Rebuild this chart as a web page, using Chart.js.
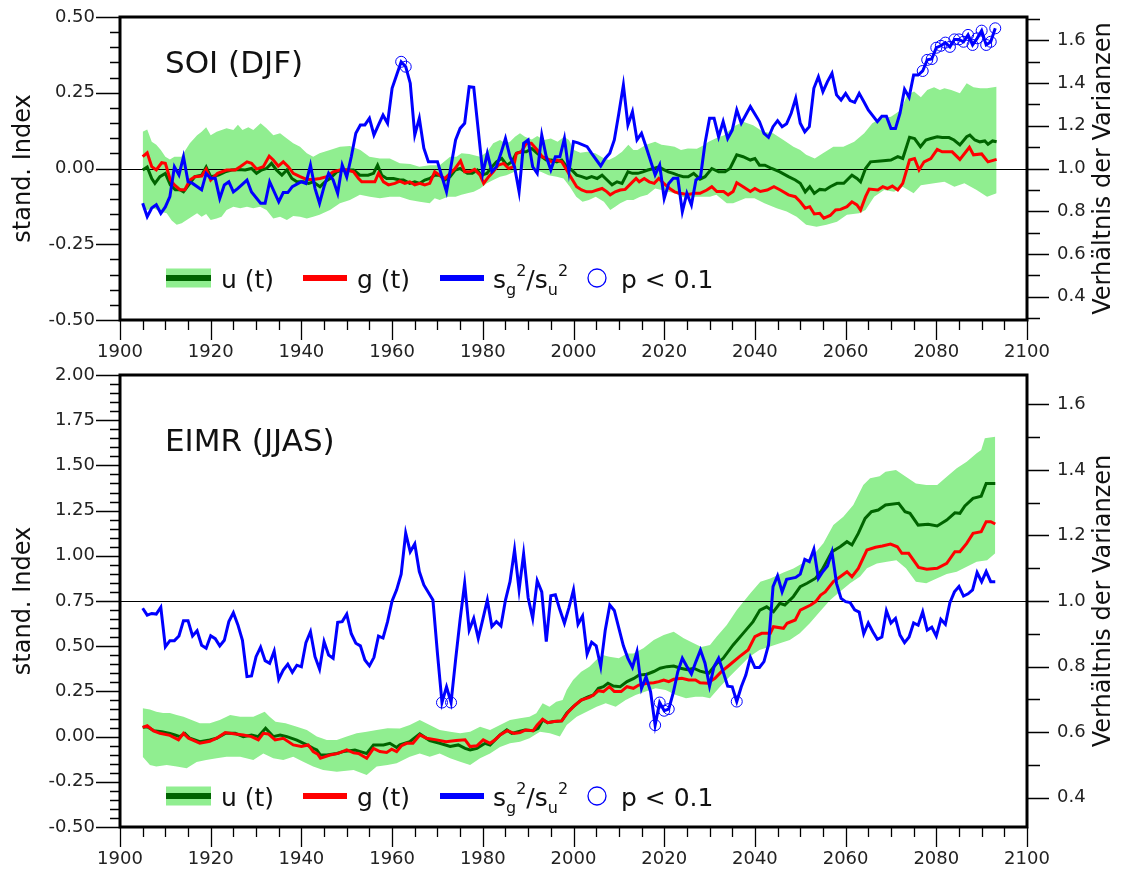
<!DOCTYPE html>
<html>
<head>
<meta charset="utf-8">
<script src="https://cdn.jsdelivr.net/npm/chart.js@4.4.1/dist/chart.umd.min.js"></script>
<style>
  html, body { margin: 0; padding: 0; background: #fff; }
  #wrap { position: relative; width: 1124px; height: 875px; overflow: hidden; }
  canvas { position: absolute; left: 0; }
</style>
</head>
<body>
<div id="wrap">
  <canvas id="soi" width="1124" height="365" style="top:0px"></canvas>
  <canvas id="eimr" width="1124" height="520" style="top:355px"></canvas>
</div>
<script>
// ---- axis ticks ----
const yearTicks = [1900, 1920, 1940, 1960, 1980, 2000, 2020, 2040, 2060, 2080, 2100];
const soiIndexTicks = [-0.5, -0.25, 0, 0.25, 0.5];
const eimrIndexTicks = [-0.5, -0.25, 0, 0.25, 0.5, 0.75, 1.0, 1.25, 1.5, 1.75, 2.0];
const ratioTicks = [0.4, 0.6, 0.8, 1.0, 1.2, 1.4, 1.6];

// ---- SOI (DJF): [year, value] ----
const soiUpper = [[1905,0.121],[1906,0.129],[1907,0.088],[1908,0.078],[1909,0.061],[1910,0.039],[1911,0.03],[1912,0.039],[1913.5,0.039],[1915.4,0.083],[1917,0.11],[1918,0.121],[1919,0.136],[1920,0.11],[1921.3,0.121],[1923.5,0.133],[1925,0.127],[1926,0.144],[1927,0.127],[1928.3,0.136],[1929.4,0.127],[1931,0.149],[1932.3,0.133],[1933.8,0.11],[1935.3,0.116],[1936.8,0.099],[1938.2,0.083],[1939.7,0.072],[1941.2,0.05],[1942.6,0.039],[1944,0.05],[1946.3,0.061],[1948.5,0.072],[1950.7,0.074],[1953,0.061],[1955,0.039],[1957.3,0.033],[1959.5,0.033],[1961.7,0.017],[1964,0.015],[1966,0.006],[1968.3,0.011],[1970.5,0.011],[1972.8,0.039],[1974.2,0.039],[1975.3,0.05],[1977,0.048],[1979.4,0.039],[1981,0.055],[1982.3,0.083],[1983.8,0.094],[1985,0.083],[1986,0.088],[1987.1,0.105],[1988.2,0.116],[1989.3,0.105],[1990.8,0.096],[1992,0.107],[1993.5,0.094],[1995,0.099],[1996.5,0.088],[1997.9,0.105],[1999,0.094],[2000.1,0.061],[2001.5,0.052],[2003,0.055],[2004.8,0.05],[2006.7,0.034],[2007.8,0.028],[2009.2,0.039],[2010.7,0.055],[2012.1,0.078],[2013.2,0.061],[2014.1,0.061],[2016,0.078],[2018,0.088],[2019.4,0.078],[2021,0.075],[2022.3,0.072],[2023.7,0.061],[2025.2,0.066],[2027.2,0.065],[2028.5,0.075],[2029.8,0.088],[2031.3,0.099],[2033.2,0.11],[2035.2,0.138],[2037.4,0.154],[2039.6,0.143],[2041.8,0.121],[2044,0.116],[2046.3,0.094],[2048.5,0.072],[2050,0.061],[2051.3,0.045],[2053.2,0.033],[2055,0.05],[2057.3,0.072],[2059.5,0.072],[2061.9,0.088],[2064.1,0.116],[2065.9,0.149],[2067.7,0.165],[2070,0.171],[2072.2,0.193],[2073.6,0.243],[2075.1,0.254],[2076.6,0.235],[2078,0.259],[2079.5,0.268],[2080.8,0.259],[2081.8,0.265],[2083.3,0.259],[2085.2,0.248],[2086.7,0.281],[2088.2,0.268],[2089.7,0.265],[2091.2,0.265],[2093.3,0.27]];
const soiLower = [[1905,-0.137],[1906,-0.137],[1907.4,-0.131],[1908.8,-0.142],[1910.3,-0.148],[1911.4,-0.172],[1912.5,-0.186],[1913.6,-0.181],[1914.7,-0.17],[1915.8,-0.159],[1917,-0.148],[1918,-0.159],[1919,-0.15],[1920,-0.17],[1921.3,-0.165],[1922.4,-0.159],[1923.5,-0.137],[1925,-0.126],[1926.5,-0.131],[1928,-0.126],[1929.4,-0.131],[1930.9,-0.126],[1932.3,-0.137],[1933.8,-0.165],[1935.3,-0.159],[1936.8,-0.17],[1938.2,-0.157],[1939.7,-0.159],[1941.2,-0.165],[1942.6,-0.159],[1944,-0.153],[1946.3,-0.137],[1948.5,-0.115],[1950.7,-0.104],[1952.9,-0.087],[1955.1,-0.093],[1957.3,-0.098],[1959.5,-0.093],[1961.7,-0.093],[1963.9,-0.104],[1966.1,-0.11],[1968.3,-0.115],[1969.4,-0.098],[1970.5,-0.104],[1972.3,-0.093],[1974,-0.093],[1975.3,-0.087],[1976.6,-0.082],[1978,-0.077],[1979.4,-0.066],[1980.9,-0.049],[1982.3,-0.038],[1983.8,-0.027],[1985.2,-0.022],[1987,-0.011],[1988.9,0.0],[1990.8,-0.005],[1992.8,-0.011],[1994.5,-0.022],[1996.3,-0.027],[1997.8,-0.033],[1999.2,-0.06],[2000.6,-0.093],[2002,-0.11],[2003.4,-0.104],[2004.9,-0.093],[2006.7,-0.11],[2008.1,-0.137],[2009.2,-0.126],[2010.3,-0.115],[2011.8,-0.104],[2013.2,-0.104],[2014.7,-0.093],[2016.3,-0.087],[2018,-0.066],[2019.4,-0.071],[2020.9,-0.077],[2022.3,-0.082],[2023.9,-0.093],[2025.3,-0.098],[2026.8,-0.093],[2028.5,-0.093],[2030.1,-0.093],[2031.5,-0.087],[2033.8,-0.115],[2035.2,-0.115],[2037.9,-0.098],[2039.9,-0.098],[2042.1,-0.115],[2044.8,-0.131],[2047,-0.142],[2049.2,-0.159],[2051.3,-0.186],[2053.6,-0.192],[2055.8,-0.186],[2058.1,-0.176],[2060.3,-0.153],[2063,-0.148],[2064.4,-0.137],[2066.3,-0.093],[2068.5,-0.071],[2070.7,-0.077],[2072.6,-0.06],[2075,-0.082],[2076.6,-0.055],[2079.5,-0.049],[2081.8,-0.044],[2084,-0.06],[2086.2,-0.049],[2088.8,-0.07],[2091.2,-0.093],[2093.3,-0.082]];
const soiU = [[1905,-0.005],[1906,0.005],[1907,-0.033],[1907.7,-0.049],[1908.8,-0.027],[1910,-0.016],[1911.1,-0.054],[1912.2,-0.07],[1913.2,-0.07],[1914,-0.077],[1915.4,-0.049],[1916.5,-0.027],[1918,-0.022],[1919,0.005],[1920,-0.027],[1921.7,-0.022],[1923.2,-0.011],[1924.6,-0.005],[1926.1,-0.003],[1927.6,-0.005],[1929,0.0],[1930.1,-0.016],[1931.2,-0.005],[1932.3,0.0],[1933.4,0.017],[1934.5,-0.005],[1935.7,-0.022],[1936.8,-0.005],[1937.9,-0.033],[1939,-0.044],[1940.5,-0.044],[1941.6,-0.049],[1942.6,-0.044],[1944.1,-0.06],[1945.2,-0.044],[1946.3,-0.033],[1947.8,-0.011],[1949.2,-0.005],[1951.5,-0.005],[1952.9,-0.022],[1954.7,-0.022],[1955.9,-0.016],[1956.8,0.011],[1957.7,-0.022],[1958.8,-0.033],[1960.3,-0.033],[1961.7,-0.038],[1962.5,-0.038],[1963.9,-0.049],[1965,-0.044],[1966.1,-0.049],[1967.2,-0.038],[1968.3,-0.033],[1969.4,-0.022],[1970.5,-0.022],[1971.6,-0.038],[1972.8,-0.027],[1973.9,-0.005],[1975,0.0],[1976.6,-0.016],[1977.7,-0.016],[1978.8,-0.005],[1979.6,-0.022],[1980.9,-0.016],[1982,0.005],[1983,0.022],[1984.2,0.033],[1985.3,0.011],[1986.4,0.022],[1987.4,0.05],[1988.5,0.055],[1989.6,0.055],[1990.8,0.066],[1992,0.05],[1993,0.039],[1994,0.028],[1995.2,0.028],[1996.3,0.022],[1997.4,0.028],[1998.5,0.006],[1999.6,-0.005],[2000.7,-0.022],[2001.8,-0.027],[2002.9,-0.033],[2004,-0.027],[2005.2,-0.033],[2006.3,-0.022],[2007.4,-0.038],[2008.5,-0.054],[2009.6,-0.044],[2010.7,-0.049],[2012,-0.011],[2013,-0.016],[2014.2,-0.016],[2015.3,-0.011],[2016.4,-0.005],[2017.7,0.0],[2018.8,0.005],[2019.8,-0.003],[2020.9,-0.011],[2022,-0.016],[2023,-0.022],[2024.2,-0.027],[2025.3,-0.027],[2026.5,-0.016],[2027.9,-0.035],[2029,-0.027],[2030.5,0.0],[2032,-0.011],[2033.4,-0.011],[2034.5,0.0],[2036,0.045],[2037.4,0.039],[2039,0.028],[2040,0.033],[2041,0.011],[2042.2,0.011],[2043.7,0.0],[2045.5,-0.011],[2047.4,-0.027],[2048.9,-0.038],[2050,-0.049],[2051.1,-0.077],[2052.1,-0.06],[2053.1,-0.082],[2054.3,-0.069],[2055.5,-0.071],[2056.6,-0.06],[2058.1,-0.049],[2059.6,-0.049],[2061.4,-0.022],[2062.5,-0.033],[2063.3,-0.044],[2064.4,0.0],[2065.5,0.022],[2067.7,0.025],[2070,0.028],[2071.5,0.039],[2072.6,0.033],[2074.1,0.103],[2075.2,0.099],[2076.5,0.072],[2077.7,0.094],[2078.8,0.099],[2080.2,0.105],[2081.3,0.102],[2082.8,0.102],[2083.9,0.094],[2085.2,0.078],[2086.7,0.105],[2087.4,0.11],[2088.5,0.094],[2089.6,0.088],[2090.7,0.091],[2091.4,0.08],[2092.4,0.091],[2093.3,0.088]];
const soiG = [[1905,0.039],[1906,0.052],[1907,0.006],[1908,-0.005],[1909.2,0.019],[1910,0.017],[1911.1,-0.038],[1912,-0.054],[1913.2,-0.07],[1914.3,-0.07],[1915.4,-0.038],[1916.5,-0.027],[1918,-0.025],[1919,-0.002],[1920,-0.038],[1921.5,-0.016],[1923.5,-0.005],[1925.4,-0.005],[1926.5,0.006],[1928,0.022],[1929,0.017],[1930.1,-0.002],[1931.6,0.006],[1932.9,0.041],[1933.8,0.028],[1934.9,0.008],[1936,0.022],[1937.1,0.006],[1938.2,-0.016],[1939.7,-0.027],[1941.2,-0.036],[1942.6,-0.036],[1944.1,-0.033],[1945.6,-0.027],[1947,-0.011],[1948.5,-0.005],[1950,-0.005],[1951.5,-0.011],[1952.6,-0.033],[1953.3,-0.044],[1954.7,-0.044],[1956.2,-0.044],[1957,-0.016],[1958.1,-0.044],[1959.2,-0.054],[1960.6,-0.049],[1961.7,-0.042],[1962.8,-0.049],[1963.9,-0.044],[1965,-0.054],[1966.1,-0.049],[1967.2,-0.054],[1968.3,-0.049],[1969.4,-0.011],[1970.5,-0.022],[1971.6,-0.033],[1972.8,-0.016],[1973.9,0.0],[1975.1,0.025],[1976,-0.011],[1977.1,-0.011],[1978.2,-0.003],[1979.4,-0.022],[1980.2,-0.049],[1981.3,-0.027],[1982.3,-0.011],[1983.4,0.011],[1984.6,0.017],[1985.7,0.0],[1986.8,0.006],[1987.4,0.05],[1988.5,0.055],[1989.6,0.083],[1990.7,0.083],[1992,0.061],[1993.1,0.039],[1994.2,0.033],[1995.2,0.022],[1996.3,0.028],[1997.4,0.022],[1998.5,-0.005],[1999.6,-0.033],[2000.7,-0.06],[2001.8,-0.071],[2002.9,-0.077],[2004,-0.077],[2005.2,-0.071],[2006.3,-0.066],[2007.4,-0.077],[2008.1,-0.087],[2009.2,-0.077],[2010.3,-0.071],[2011.4,-0.069],[2012.7,-0.049],[2013.8,-0.033],[2014.5,-0.044],[2015.6,-0.033],[2016.7,-0.044],[2017.8,-0.049],[2018.8,-0.033],[2019.9,-0.049],[2021.2,-0.066],[2022.3,-0.077],[2023.4,-0.082],[2024.5,-0.084],[2025.6,-0.085],[2026.7,-0.082],[2027.9,-0.082],[2029.4,-0.071],[2030.5,-0.06],[2031.6,-0.076],[2033.1,-0.076],[2034.1,-0.087],[2035.2,-0.076],[2036,-0.047],[2037.4,-0.06],[2039,-0.076],[2040,-0.066],[2041.2,-0.076],[2042.7,-0.071],[2044.2,-0.06],[2045.6,-0.071],[2047.4,-0.087],[2048.9,-0.093],[2050,-0.11],[2051.1,-0.131],[2052.1,-0.126],[2053.1,-0.15],[2054.3,-0.148],[2055.2,-0.164],[2056.6,-0.155],[2057.8,-0.137],[2058.9,-0.135],[2060.3,-0.126],[2061.4,-0.11],[2062.5,-0.12],[2063.3,-0.137],[2064.4,-0.093],[2065.2,-0.068],[2067.1,-0.071],[2068.2,-0.06],[2069.2,-0.066],[2070.3,-0.058],[2071.5,-0.071],[2072.6,-0.049],[2074.1,0.028],[2075.2,0.033],[2076.2,-0.005],[2077.3,0.022],[2078.8,0.033],[2080.2,0.063],[2081.3,0.055],[2083.5,0.055],[2085.2,0.03],[2087.3,0.07],[2088.2,0.045],[2090,0.048],[2091.4,0.022],[2093.3,0.03]];
const soiRatio = [[1905,0.837],[1906,0.774],[1907,0.815],[1908,0.83],[1909,0.79],[1910,0.82],[1911,0.868],[1912,1.008],[1913,0.97],[1914,1.055],[1915,0.938],[1916,0.93],[1918,0.9],[1919,0.977],[1920,0.954],[1921,0.954],[1922,0.86],[1923,0.923],[1924,0.938],[1925,0.89],[1926,0.907],[1928,0.946],[1929,0.89],[1931,0.837],[1932,0.837],[1933,0.938],[1935,0.844],[1936,0.887],[1937,0.887],[1938,0.915],[1940,0.938],[1941,0.93],[1942,1.016],[1943,0.907],[1944,0.837],[1945,0.915],[1946,0.977],[1947,0.946],[1948,0.884],[1949,1.016],[1950,0.96],[1951,1.055],[1952,1.165],[1953,1.204],[1954,1.204],[1955,1.235],[1956,1.157],[1957,1.204],[1958,1.25],[1959,1.212],[1960,1.376],[1961,1.438],[1962,1.5],[1963,1.477],[1964,1.4],[1965,1.157],[1966,1.235],[1967,1.095],[1968,1.032],[1970,1.032],[1972,0.891],[1974,1.134],[1975,1.188],[1976,1.212],[1977,1.383],[1978,1.38],[1980,0.977],[1981,1.071],[1982,0.985],[1983,1.008],[1984,1.071],[1985,1.141],[1986,1.055],[1987,1.008],[1988,0.891],[1989,1.118],[1990,1.134],[1991,1.008],[1992,0.977],[1993,1.157],[1994,1.055],[1995,0.993],[1996,1.055],[1997,1.055],[1998,1.141],[1999,0.985],[2000,1.126],[2001,1.12],[2003,1.102],[2004,1.071],[2006,1.012],[2007,1.047],[2008,1.071],[2009,1.134],[2010,1.259],[2011,1.391],[2012,1.204],[2013,1.266],[2014,1.134],[2015,1.165],[2016,1.102],[2018,0.97],[2019,1.016],[2020,0.86],[2021,0.93],[2022,0.954],[2023,0.954],[2024,0.797],[2025,0.884],[2026,0.829],[2027,0.946],[2028,0.96],[2029,1.118],[2030,1.235],[2031,1.235],[2032,1.149],[2033,1.22],[2034,1.141],[2035,1.18],[2036,1.274],[2037,1.212],[2039,1.29],[2041,1.22],[2042,1.165],[2043,1.146],[2044,1.196],[2045,1.224],[2046,1.196],[2047,1.21],[2048,1.259],[2049,1.329],[2050,1.212],[2051,1.172],[2052,1.196],[2053,1.376],[2054,1.43],[2055,1.36],[2056,1.407],[2057,1.446],[2058,1.345],[2059,1.321],[2060,1.352],[2061,1.318],[2062,1.31],[2063,1.352],[2064,1.314],[2065,1.274],[2067,1.22],[2068,1.245],[2069,1.245],[2070,1.188],[2071,1.188],[2072,1.259],[2073,1.371],[2074,1.334],[2075,1.438],[2076,1.438],[2077,1.457],[2078,1.509],[2079,1.513],[2080,1.566],[2081,1.575],[2082,1.59],[2083,1.57],[2084,1.605],[2085,1.605],[2086,1.594],[2087,1.626],[2088,1.579],[2089,1.61],[2090,1.646],[2091,1.579],[2092,1.594],[2093,1.657]];
const soiSignificant = [1962,1963,2077,2078,2079,2080,2081,2082,2083,2084,2085,2086,2087,2088,2089,2090,2091,2092,2093];

// ---- EIMR (JJAS): [year, value] ----
const eimrUpper = [[1905,0.157],[1906.6,0.15],[1908,0.138],[1909.5,0.13],[1911,0.13],[1912.5,0.119],[1914,0.11],[1915.8,0.092],[1917.6,0.074],[1919.8,0.074],[1922,0.092],[1924.3,0.119],[1926.5,0.11],[1929.4,0.11],[1931.9,0.138],[1933,0.11],[1934.3,0.082],[1936.5,0.074],[1939,0.055],[1941.2,0.037],[1943.4,0.0],[1945.6,-0.019],[1947.8,-0.019],[1950,0.0],[1952.2,0.018],[1954.4,0.027],[1956.6,0.037],[1959,0.046],[1961.7,0.045],[1963.9,0.064],[1966.1,0.092],[1968.3,0.064],[1970.5,0.037],[1972.8,0.027],[1975,0.018],[1977.2,0.027],[1979.4,0.055],[1981.6,0.037],[1983.8,0.064],[1986,0.092],[1988.2,0.101],[1990.3,0.11],[1991.8,0.129],[1993.2,0.184],[1994.7,0.165],[1996.2,0.193],[1997.6,0.202],[1998.5,0.258],[1999.9,0.313],[2001.7,0.359],[2003.5,0.387],[2005,0.424],[2006.4,0.451],[2007.9,0.442],[2010,0.433],[2011.8,0.46],[2013.2,0.46],[2015.4,0.488],[2017.7,0.534],[2019.9,0.562],[2022.1,0.58],[2024.3,0.544],[2026.5,0.516],[2028.2,0.495],[2030.1,0.507],[2031.6,0.553],[2033.8,0.617],[2036,0.7],[2039,0.793],[2041.2,0.857],[2043.4,0.875],[2046.3,0.907],[2048.5,0.93],[2050.7,0.962],[2052.9,1.004],[2055.1,1.069],[2057.3,1.17],[2059.5,1.216],[2061.7,1.281],[2063.9,1.392],[2065.4,1.429],[2067.5,1.44],[2068.8,1.465],[2071.1,1.475],[2073.3,1.437],[2075.5,1.4],[2077.8,1.392],[2080.2,1.392],[2082.3,1.437],[2084.5,1.484],[2086.7,1.52],[2088.9,1.567],[2089.9,1.585],[2090.7,1.65],[2093,1.659]];
const eimrLower = [[1905,-0.111],[1906.6,-0.157],[1908,-0.166],[1910.3,-0.157],[1912.5,-0.166],[1914.7,-0.175],[1916.9,-0.14],[1919,-0.13],[1921.3,-0.12],[1923.5,-0.111],[1926.5,-0.111],[1929.4,-0.13],[1931.6,-0.093],[1933.8,-0.12],[1936,-0.129],[1938.2,-0.111],[1940.4,-0.139],[1942.6,-0.166],[1944.8,-0.185],[1947.8,-0.194],[1951.5,-0.185],[1954.4,-0.212],[1956.6,-0.166],[1959,-0.157],[1961,-0.148],[1963.9,-0.111],[1966.1,-0.093],[1968.3,-0.111],[1970.5,-0.093],[1972.8,-0.12],[1975,-0.139],[1977.2,-0.157],[1979.4,-0.12],[1981.6,-0.093],[1983.8,-0.057],[1986,-0.037],[1988.2,-0.028],[1990.3,-0.009],[1992.6,0.027],[1994.8,0.018],[1997,0.0],[1998.5,0.064],[2000.7,0.11],[2002.9,0.138],[2005.1,0.165],[2007.1,0.184],[2009.3,0.165],[2011.5,0.202],[2013.7,0.23],[2015.9,0.249],[2018.1,0.267],[2020.3,0.258],[2022.6,0.23],[2024.8,0.212],[2026.9,0.221],[2028.5,0.221],[2030.1,0.212],[2032.3,0.276],[2034.4,0.331],[2036.6,0.387],[2038.8,0.442],[2041,0.479],[2043.2,0.497],[2045.5,0.516],[2047.7,0.534],[2049.9,0.571],[2052.1,0.627],[2054.3,0.691],[2056.6,0.756],[2058.8,0.802],[2061,0.848],[2063.2,0.885],[2064.7,0.931],[2066.9,0.958],[2069.1,0.967],[2071.2,0.976],[2073.3,0.931],[2075.5,0.857],[2077.8,0.848],[2080.2,0.876],[2082.3,0.9],[2084.5,0.912],[2086.7,0.94],[2088.9,0.967],[2091.2,0.976],[2093,1.014]];
const eimrU = [[1905,0.051],[1906,0.055],[1907.4,0.033],[1909.2,0.027],[1911,0.018],[1912.1,0.009],[1913.2,0.0],[1914.3,0.018],[1915.4,-0.009],[1917.6,-0.028],[1919.8,-0.019],[1921.3,-0.009],[1923.2,0.018],[1925.4,0.018],[1927.2,0.0],[1929,0.009],[1930.5,0.0],[1932.1,0.046],[1933.8,0.0],[1935.3,0.009],[1936.8,0.0],[1939,-0.019],[1941.2,-0.046],[1942.6,-0.065],[1943.4,-0.074],[1944.2,-0.102],[1945.6,-0.102],[1947.8,-0.093],[1949.2,-0.083],[1951.8,-0.074],[1953,-0.083],[1954.4,-0.093],[1955.9,-0.046],[1958.1,-0.046],[1959.5,-0.037],[1961,-0.06],[1961.7,-0.046],[1963.9,-0.028],[1966.1,0.015],[1968.3,-0.022],[1970.5,-0.037],[1972.8,-0.055],[1974.6,-0.046],[1976.1,-0.065],[1977.2,-0.074],[1978.7,-0.065],[1980.5,-0.037],[1981.6,-0.046],[1982.7,-0.018],[1983.8,0.009],[1985.3,0.037],[1986.4,0.018],[1987.8,0.027],[1989.3,0.037],[1991.1,0.033],[1992.2,0.046],[1993.2,0.092],[1994.3,0.077],[1995.7,0.083],[1997.4,0.087],[1998.5,0.129],[1999.9,0.165],[2001.7,0.202],[2003.2,0.22],[2004.4,0.23],[2005.5,0.267],[2006.6,0.276],[2007.6,0.295],[2008.8,0.28],[2010.3,0.276],[2011.8,0.304],[2013.3,0.322],[2014.4,0.34],[2016.2,0.345],[2017.7,0.36],[2019.1,0.378],[2020.6,0.387],[2022.1,0.39],[2023.6,0.378],[2025.1,0.37],[2026.5,0.378],[2027.9,0.362],[2029.8,0.35],[2031.6,0.405],[2033,0.433],[2035.2,0.507],[2037.4,0.571],[2039.6,0.636],[2041.1,0.7],[2042.6,0.718],[2044.1,0.691],[2045.5,0.737],[2046.6,0.728],[2048.5,0.775],[2050,0.829],[2051.5,0.848],[2053.4,0.876],[2054.8,0.922],[2057,1.023],[2058.8,1.05],[2060.3,1.078],[2061.4,1.06],[2062.8,1.124],[2064.3,1.207],[2065.7,1.244],[2067.2,1.253],[2068.8,1.281],[2071.7,1.29],[2073.1,1.244],[2074.2,1.235],[2076,1.17],[2078.2,1.175],[2080.2,1.165],[2082.3,1.198],[2084.1,1.238],[2085.2,1.235],[2086.3,1.276],[2088.1,1.318],[2089.9,1.33],[2091,1.4],[2093,1.4]];
const eimrG = [[1905,0.051],[1906,0.06],[1907.4,0.031],[1908.8,0.018],[1911,0.007],[1912.9,-0.018],[1914,0.018],[1915.1,-0.009],[1917.6,-0.037],[1919.8,-0.026],[1921.3,-0.009],[1923.2,0.022],[1925.4,0.015],[1927.2,0.009],[1929,0.0],[1930.5,-0.018],[1931.6,0.018],[1932.7,0.015],[1934.2,-0.018],[1936,-0.009],[1938.2,-0.046],[1940,-0.055],[1941.5,-0.046],[1942.6,-0.083],[1943.6,-0.097],[1944.2,-0.12],[1946.3,-0.102],[1948.1,-0.093],[1950,-0.074],[1951.5,-0.09],[1952.6,-0.093],[1954.4,-0.12],[1955.9,-0.065],[1957.3,-0.083],[1958.8,-0.088],[1959.9,-0.07],[1961,-0.083],[1962.1,-0.05],[1963.2,-0.037],[1964.6,-0.037],[1966.1,0.009],[1967.6,-0.009],[1969.8,-0.018],[1971.9,-0.028],[1974.1,-0.022],[1976.1,-0.018],[1977.2,-0.055],[1978.7,-0.051],[1980.1,-0.018],[1981.6,-0.037],[1982.7,-0.018],[1983.8,0.009],[1985.4,0.033],[1986.9,0.018],[1988.2,0.022],[1989.5,0.037],[1991.1,0.033],[1992,0.064],[1993.2,0.096],[1994.3,0.077],[1995.7,0.083],[1997.4,0.087],[1998.9,0.138],[2000.4,0.175],[2001.7,0.202],[2003.5,0.217],[2004.4,0.23],[2005.5,0.254],[2006.6,0.249],[2007.9,0.276],[2009,0.249],[2010.5,0.249],[2011.8,0.276],[2013.2,0.267],[2014.4,0.285],[2016.2,0.295],[2017.7,0.298],[2018.8,0.304],[2019.9,0.313],[2021,0.304],[2022.1,0.317],[2023.9,0.322],[2025.4,0.313],[2026.9,0.313],[2027.9,0.298],[2029.5,0.295],[2031.2,0.322],[2032.6,0.359],[2034.4,0.396],[2036.6,0.442],[2038.5,0.479],[2040,0.553],[2041.5,0.571],[2043.4,0.571],[2044.1,0.608],[2046.3,0.599],[2047.1,0.627],[2048.9,0.645],[2050,0.7],[2052.3,0.728],[2053.4,0.747],[2054.5,0.783],[2055.5,0.8],[2057.3,0.857],[2058.8,0.884],[2060.3,0.912],[2061.4,0.884],[2062.8,0.93],[2064.7,1.032],[2066.6,1.047],[2068.1,1.054],[2069.9,1.065],[2071.4,1.05],[2072.4,1.014],[2073.9,1.014],[2076.1,0.936],[2077.9,0.926],[2080.2,0.931],[2082.3,0.958],[2084.1,1.023],[2085.2,1.023],[2086.7,1.069],[2088.1,1.124],[2089.9,1.133],[2091,1.189],[2092,1.189],[2093,1.176]];
const eimrRatio = [[1905,0.978],[1906,0.957],[1907,0.962],[1908,0.96],[1909,0.981],[1910,0.86],[1911,0.879],[1912,0.879],[1913,0.893],[1914,0.94],[1915,0.94],[1916,0.893],[1917,0.909],[1918,0.865],[1919,0.856],[1920,0.894],[1921,0.885],[1922,0.863],[1923,0.88],[1924,0.937],[1925,0.964],[1926,0.927],[1927,0.88],[1928,0.769],[1929,0.771],[1930,0.83],[1931,0.859],[1932,0.818],[1933,0.81],[1934,0.847],[1935,0.761],[1936,0.789],[1937,0.807],[1938,0.782],[1939,0.804],[1940,0.799],[1941,0.873],[1942,0.906],[1943,0.83],[1944,0.792],[1945,0.876],[1946,0.835],[1947,0.825],[1948,0.935],[1949,0.937],[1950,0.96],[1951,0.9],[1952,0.871],[1953,0.863],[1954,0.82],[1955,0.802],[1956,0.828],[1957,0.893],[1958,0.887],[1959,0.937],[1960,1.0],[1961,1.034],[1962,1.082],[1963,1.207],[1964,1.15],[1965,1.174],[1966,1.09],[1967,1.049],[1969,1.003],[1970,0.84],[1971,0.69],[1972,0.738],[1973,0.69],[1974,0.82],[1975,0.944],[1976,1.054],[1977,0.911],[1978,0.947],[1979,0.886],[1980,0.944],[1981,1.003],[1982,0.922],[1983,0.937],[1984,0.924],[1985,1.003],[1986,1.059],[1987,1.156],[1988,1.034],[1989,1.144],[1990,1.01],[1991,0.947],[1992,1.062],[1993,1.028],[1994,0.876],[1995,1.016],[1996,1.019],[1997,0.973],[1998,0.932],[1999,0.98],[2000,1.034],[2001,0.929],[2002,0.954],[2003,0.838],[2004,0.874],[2005,0.863],[2006,0.8],[2007,0.911],[2008,0.988],[2009,0.971],[2010,0.917],[2011,0.863],[2012,0.825],[2013,0.797],[2014,0.845],[2015,0.733],[2016,0.769],[2017,0.723],[2018,0.621],[2019,0.69],[2020,0.665],[2021,0.67],[2022,0.72],[2023,0.784],[2024,0.825],[2025,0.8],[2026,0.777],[2027,0.815],[2028,0.85],[2029,0.81],[2030,0.74],[2031,0.8],[2032,0.825],[2033,0.784],[2034,0.74],[2035,0.738],[2036,0.693],[2037,0.738],[2038,0.774],[2039,0.828],[2040,0.797],[2041,0.797],[2042,0.815],[2043,0.866],[2044,1.044],[2045,1.077],[2046,1.028],[2047,1.066],[2048,1.069],[2049,1.072],[2050,1.082],[2051,1.127],[2052,1.12],[2053,1.158],[2054,1.069],[2055,1.09],[2056,1.107],[2057,1.15],[2058,1.054],[2059,1.008],[2060,0.998],[2061,0.995],[2062,0.973],[2063,0.966],[2064,0.9],[2065,0.933],[2066,0.906],[2067,0.883],[2068,0.89],[2069,0.97],[2070,0.933],[2071,0.947],[2072,0.896],[2073,0.873],[2074,0.89],[2075,0.933],[2076,0.926],[2077,0.967],[2078,0.911],[2079,0.92],[2080,0.893],[2081,0.944],[2082,0.929],[2083,0.995],[2084,1.028],[2085,1.044],[2086,1.015],[2087,1.022],[2088,1.034],[2089,1.087],[2090,1.059],[2091,1.09],[2092,1.059],[2093,1.059]];
const eimrSignificant = [1971, 1973, 2018, 2019, 2020, 2021, 2036];

// ---- styling ----
const BAND = '#90ee90';
const U_COL = '#006400';
const G_COL = '#ff0000';
const R_COL = '#0000ff';
const FONT = '"DejaVu Sans", "Liberation Sans", sans-serif';
const TICK_COL = '#222';

const toXY = arr => arr.map(([x, y]) => ({ x, y }));

// keep the plot area exactly where the layout padding puts it
function noEdgePadding(s) {
  s.paddingTop = 0; s.paddingBottom = 0; s.paddingLeft = 0; s.paddingRight = 0;
}

function makePanel(canvasId, p) {
  const sig = p.significant.map(yr => {
    const hit = p.ratio.find(d => d[0] === yr);
    return { x: yr, y: hit[1] };
  });

  const decor = {
    id: 'decor_' + canvasId,
    afterDatasetDraw(chart, args) {
      // reference line (index 0 / ratio 1) just above the spread band
      if (args.index !== 4) return;
      const { ctx, chartArea: a } = chart;
      const y = Math.round(chart.scales.yr.getPixelForValue(1.0)) + 0.5;
      ctx.save();
      ctx.strokeStyle = '#000'; ctx.lineWidth = 1;
      ctx.beginPath(); ctx.moveTo(a.left, y); ctx.lineTo(a.right, y); ctx.stroke();
      ctx.restore();
    },
    afterDraw(chart) {
      const { ctx, chartArea: a, scales } = chart;
      const off = p.offset;
      ctx.save();
      ctx.strokeStyle = '#000';
      ctx.lineWidth = 1.3;
      ctx.beginPath();
      // year ticks: every 5 years, long every 20
      for (let yr = 1900; yr <= 2100; yr += 5) {
        const px = Math.round(scales.x.getPixelForValue(yr)) + 0.5;
        const len = yr % 20 === 0 ? 20 : 10;
        ctx.moveTo(px, a.bottom); ctx.lineTo(px, a.bottom + len);
      }
      // index ticks: every 0.05, long every 0.25
      const lo = Math.round(p.yMin * 100), hi = Math.round(p.yMax * 100);
      for (let k = lo; k <= hi; k += 5) {
        const py = Math.round(scales.y.getPixelForValue(k / 100)) + 0.5;
        const len = k % 25 === 0 ? 24 : 10;
        ctx.moveTo(a.left - len, py); ctx.lineTo(a.left, py);
      }
      // ratio ticks: every 0.1, long every 0.2
      for (let k = 3; k <= 17; k++) {
        const v = k / 10;
        if (v < p.rMin || v > p.rMax) continue;
        const py = Math.round(scales.yr.getPixelForValue(v)) + 0.5;
        const len = k % 2 === 0 ? 22 : 13;
        ctx.moveTo(a.right, py); ctx.lineTo(a.right + len, py);
      }
      ctx.stroke();

      // plot frame
      ctx.lineWidth = 3;
      ctx.strokeRect(a.left, a.top, a.right - a.left, a.bottom - a.top);

      // axis titles
      ctx.fillStyle = '#111';
      ctx.font = '24px ' + FONT;
      ctx.textAlign = 'center';
      ctx.textBaseline = 'middle';
      const midY = (a.top + a.bottom) / 2;
      ctx.save(); ctx.translate(24, midY); ctx.rotate(-Math.PI / 2);
      ctx.fillText('stand. Index', 0, 0); ctx.restore();
      ctx.save(); ctx.translate(1104, midY); ctx.rotate(-Math.PI / 2);
      ctx.fillText('Verhältnis der Varianzen', 0, 0); ctx.restore();

      // panel title
      ctx.textAlign = 'left';
      ctx.textBaseline = 'alphabetic';
      ctx.font = '31px ' + FONT;
      ctx.fillText(p.title, 165, p.titleBase - off);

      // legend row
      const ly = p.legendY - off;
      const base = ly + 10;
      ctx.fillStyle = BAND; ctx.fillRect(166, ly - 9.5, 45, 19);
      ctx.fillStyle = U_COL; ctx.fillRect(166, ly - 3, 45, 6);
      ctx.fillStyle = G_COL; ctx.fillRect(303, ly - 3, 44, 6);
      ctx.fillStyle = R_COL; ctx.fillRect(440, ly - 3, 44, 6);
      ctx.fillStyle = '#111';
      ctx.font = '25px ' + FONT;
      ctx.fillText('u (t)', 221, base);
      ctx.fillText('g (t)', 357, base);
      // s_g^2 / s_u^2
      const big = '25px ' + FONT, small = '16px ' + FONT;
      let x = 493;
      const put = (txt, font, dy) => { ctx.font = font; ctx.fillText(txt, x, base + dy); x += ctx.measureText(txt).width; };
      put('s', big, 0); put('g', small, 7); put('2', small, -12);
      put('/s', big, 0); put('u', small, 7); put('2', small, -12);
      // significance marker
      ctx.strokeStyle = R_COL; ctx.lineWidth = 1.3;
      ctx.beginPath(); ctx.arc(597, ly, 9, 0, Math.PI * 2); ctx.stroke();
      ctx.font = big;
      ctx.fillText('p < 0.1', 621, base);
      ctx.restore();
    }
  };

  return new Chart(document.getElementById(canvasId), {
    type: 'line',
    data: {
      datasets: [
        { label: 'p < 0.1', data: sig, yAxisID: 'yr', showLine: false, pointRadius: 5.5,
          pointStyle: 'circle', pointBorderColor: R_COL, pointBackgroundColor: 'rgba(0,0,0,0)',
          pointBorderWidth: 1, order: 0 },
        { label: 'sg2/su2', data: toXY(p.ratio), yAxisID: 'yr', borderColor: R_COL,
          borderWidth: 3, pointRadius: 0, tension: 0, fill: false, order: 1 },
        { label: 'g (t)', data: toXY(p.g), yAxisID: 'y', borderColor: G_COL,
          borderWidth: 3, pointRadius: 0, tension: 0, fill: false, order: 2 },
        { label: 'u (t)', data: toXY(p.u), yAxisID: 'y', borderColor: U_COL,
          borderWidth: 3, pointRadius: 0, tension: 0, fill: false, order: 3 },
        { label: 'upper', data: toXY(p.upper), yAxisID: 'y', borderColor: BAND, borderWidth: 0,
          backgroundColor: BAND, pointRadius: 0, tension: 0, fill: '+1', order: 4 },
        { label: 'lower', data: toXY(p.lower), yAxisID: 'y', borderColor: BAND, borderWidth: 0,
          pointRadius: 0, tension: 0, fill: false, order: 5 }
      ]
    },
    options: {
      responsive: false,
      animation: false,
      events: [],
      layout: { padding: { top: p.padTop, left: 0, right: 0, bottom: 0 } },
      plugins: { legend: { display: false }, tooltip: { enabled: false } },
      scales: {
        x: {
          type: 'linear', min: 1900, max: 2100,
          afterBuildTicks: s => { s.ticks = yearTicks.map(v => ({ value: v })); },
          afterFit: s => { s.height = p.xAxisHeight; noEdgePadding(s); },
          grid: { display: false, drawTicks: false },
          border: { display: false },
          ticks: { padding: 22, autoSkip: false, maxRotation: 0, color: TICK_COL,
                   font: { family: FONT, size: 18 }, callback: v => String(v) }
        },
        y: {
          position: 'left', min: p.yMin, max: p.yMax,
          afterBuildTicks: s => { s.ticks = p.yTicks.map(v => ({ value: v })); },
          afterFit: s => { s.width = 120; noEdgePadding(s); },
          grid: { display: false, drawTicks: false },
          border: { display: false },
          ticks: { padding: 25, autoSkip: false, color: TICK_COL,
                   font: { family: FONT, size: 18 }, callback: v => Number(v).toFixed(2) }
        },
        yr: {
          position: 'right', min: p.rMin, max: p.rMax,
          afterBuildTicks: s => { s.ticks = ratioTicks.map(v => ({ value: v })); },
          afterFit: s => { s.width = 97; noEdgePadding(s); },
          grid: { display: false, drawTicks: false },
          border: { display: false },
          ticks: { padding: 30, autoSkip: false, color: TICK_COL,
                   font: { family: FONT, size: 18 }, callback: v => Number(v).toFixed(1) }
        }
      }
    },
    plugins: [decor]
  });
}

makePanel('soi', {
  offset: 0, padTop: 17, xAxisHeight: 45,
  yMin: -0.5, yMax: 0.5, yTicks: soiIndexTicks, rMin: 0.29, rMax: 1.71,
  title: 'SOI (DJF)', titleBase: 73, legendY: 278,
  upper: soiUpper, lower: soiLower, u: soiU, g: soiG, ratio: soiRatio, significant: soiSignificant
});

makePanel('eimr', {
  offset: 355, padTop: 20, xAxisHeight: 48,
  yMin: -0.5, yMax: 2.0, yTicks: eimrIndexTicks, rMin: 0.31, rMax: 1.69,
  title: 'EIMR (JJAS)', titleBase: 451, legendY: 796,
  upper: eimrUpper, lower: eimrLower, u: eimrU, g: eimrG, ratio: eimrRatio, significant: eimrSignificant
});
</script>
</body>
</html>
